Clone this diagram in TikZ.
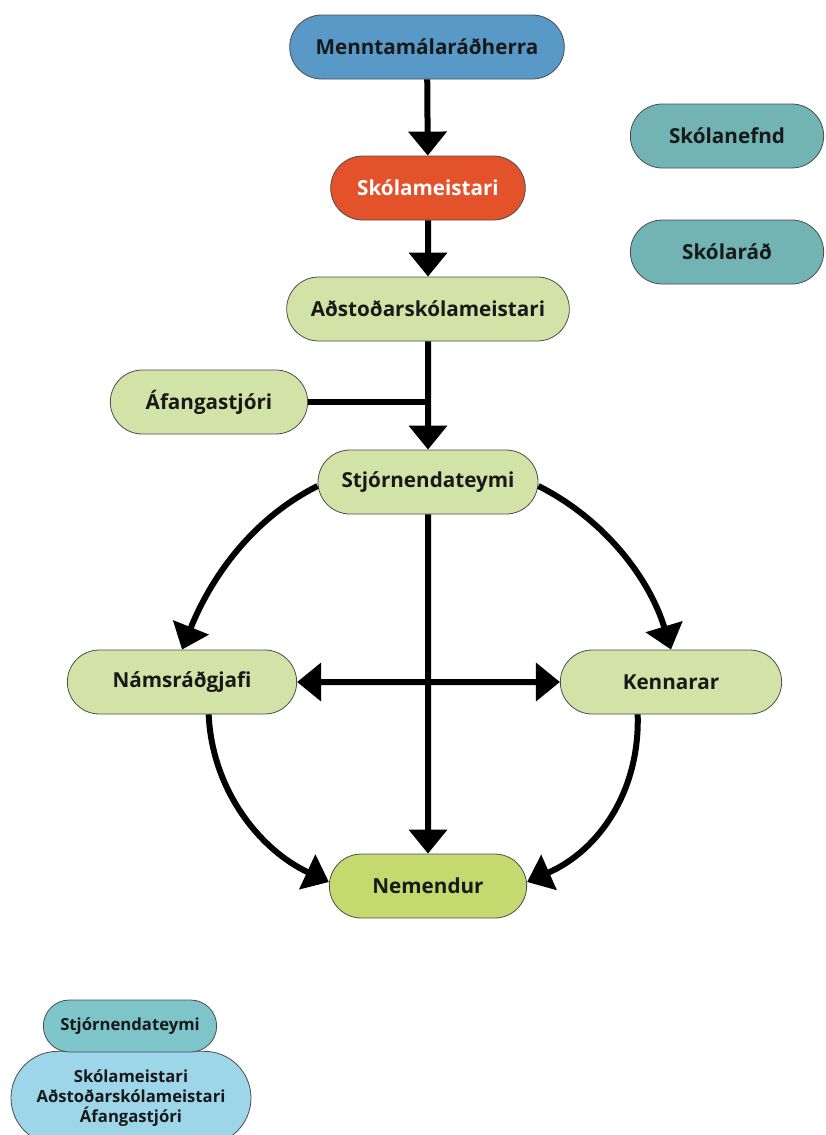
\documentclass[tikz,border=0pt]{standalone}
\usepackage{fontspec}
\setmainfont{Open Sans}
\usetikzlibrary{arrows.meta,shapes.misc}

\definecolor{ministerblue}{RGB}{88,153,200}
\definecolor{headred}{RGB}{228,82,43}
\definecolor{palegreen}{RGB}{211,227,168}
\definecolor{pupilgreen}{RGB}{197,217,110}
\definecolor{boardteal}{RGB}{114,179,179}
\definecolor{legendteal}{RGB}{125,197,201}
\definecolor{legendblue}{RGB}{157,214,232}

\tikzset{
  unit/.style={rounded rectangle, draw=black!70, line width=0.6pt, minimum height=48pt,
    inner xsep=4pt, font=\fontsize{15.5}{17}\selectfont\bfseries, text=black!90},
  flow/.style={line width=4.5pt, -{Triangle[width=28pt,length=18pt]}},
  both/.style={line width=4.5pt, {Triangle[width=28pt,length=18pt]}-{Triangle[width=28pt,length=18pt]}},
}

\begin{document}
\begin{tikzpicture}[x=0.75pt,y=0.75pt,yscale=-1,xscale=1]
\useasboundingbox (0,0) rectangle (825,1135);

% boxes
\node[unit, fill=ministerblue, minimum width=214pt] (radherra) at (427,47) {Menntamálaráðherra};
\node[unit, fill=headred, minimum width=154pt, text=white] (meistari) at (428,188) {Skólameistari};
\node[unit, fill=palegreen, minimum width=220pt] (adstod) at (428,309) {Aðstoðarskólameistari};
\node[unit, fill=palegreen, minimum width=156pt] (afanga) at (209,402) {Áfangastjóri};
\node[unit, fill=palegreen, minimum width=173pt] (teymi) at (428,482) {Stjórnendateymi};
\node[unit, fill=palegreen, minimum width=180pt] (radgjafi) at (182,682) {Námsráðgjafi};
\node[unit, fill=palegreen, minimum width=174pt] (kennarar) at (671,682) {Kennarar};
\node[unit, fill=pupilgreen, minimum width=156pt] (nemendur) at (428,886) {Nemendur};
\node[unit, fill=boardteal, minimum width=153pt] (nefnd) at (727,136) {Skólanefnd};
\node[unit, fill=boardteal, minimum width=153pt] (skolarad) at (727,252) {Skólaráð};

% legend
\node[unit, fill=legendblue, minimum width=188pt, minimum height=70pt, align=center,
  font=\fontsize{12.5}{15}\selectfont\bfseries] (hopur) at (131,1098)
  {Skólameistari\\Aðstoðarskólameistari\\Áfangastjóri};
\node[unit, fill=legendteal, minimum width=138pt, minimum height=39pt,
  font=\fontsize{12.5}{15}\selectfont\bfseries] (teymilegend) at (130,1026) {Stjórnendateymi};

% arrows
\coordinate (mot) at (428,402);
\draw[flow] (radherra) -- (meistari);
\draw[flow] (meistari) -- (adstod);
\draw[flow] (adstod) -- (teymi);
\draw[line width=4.5pt] (afanga.east) -- (mot);
\draw[flow] (teymi) -- (nemendur);
\draw[flow] ([yshift=3]teymi.west) .. controls (250,520) and (210,580) .. (radgjafi.north);
\draw[flow] ([yshift=3]teymi.east) .. controls (606,520) and (650,580) .. (kennarar.north);
\draw[flow] ([xshift=20]radgjafi.south) .. controls (212,790) and (260,850) .. ([yshift=-3]nemendur.west);
\draw[flow] ([xshift=-25]kennarar.south) .. controls (640,790) and (600,850) .. ([yshift=-3]nemendur.east);
\draw[both] (radgjafi) -- (kennarar);

\end{tikzpicture}
\end{document}
